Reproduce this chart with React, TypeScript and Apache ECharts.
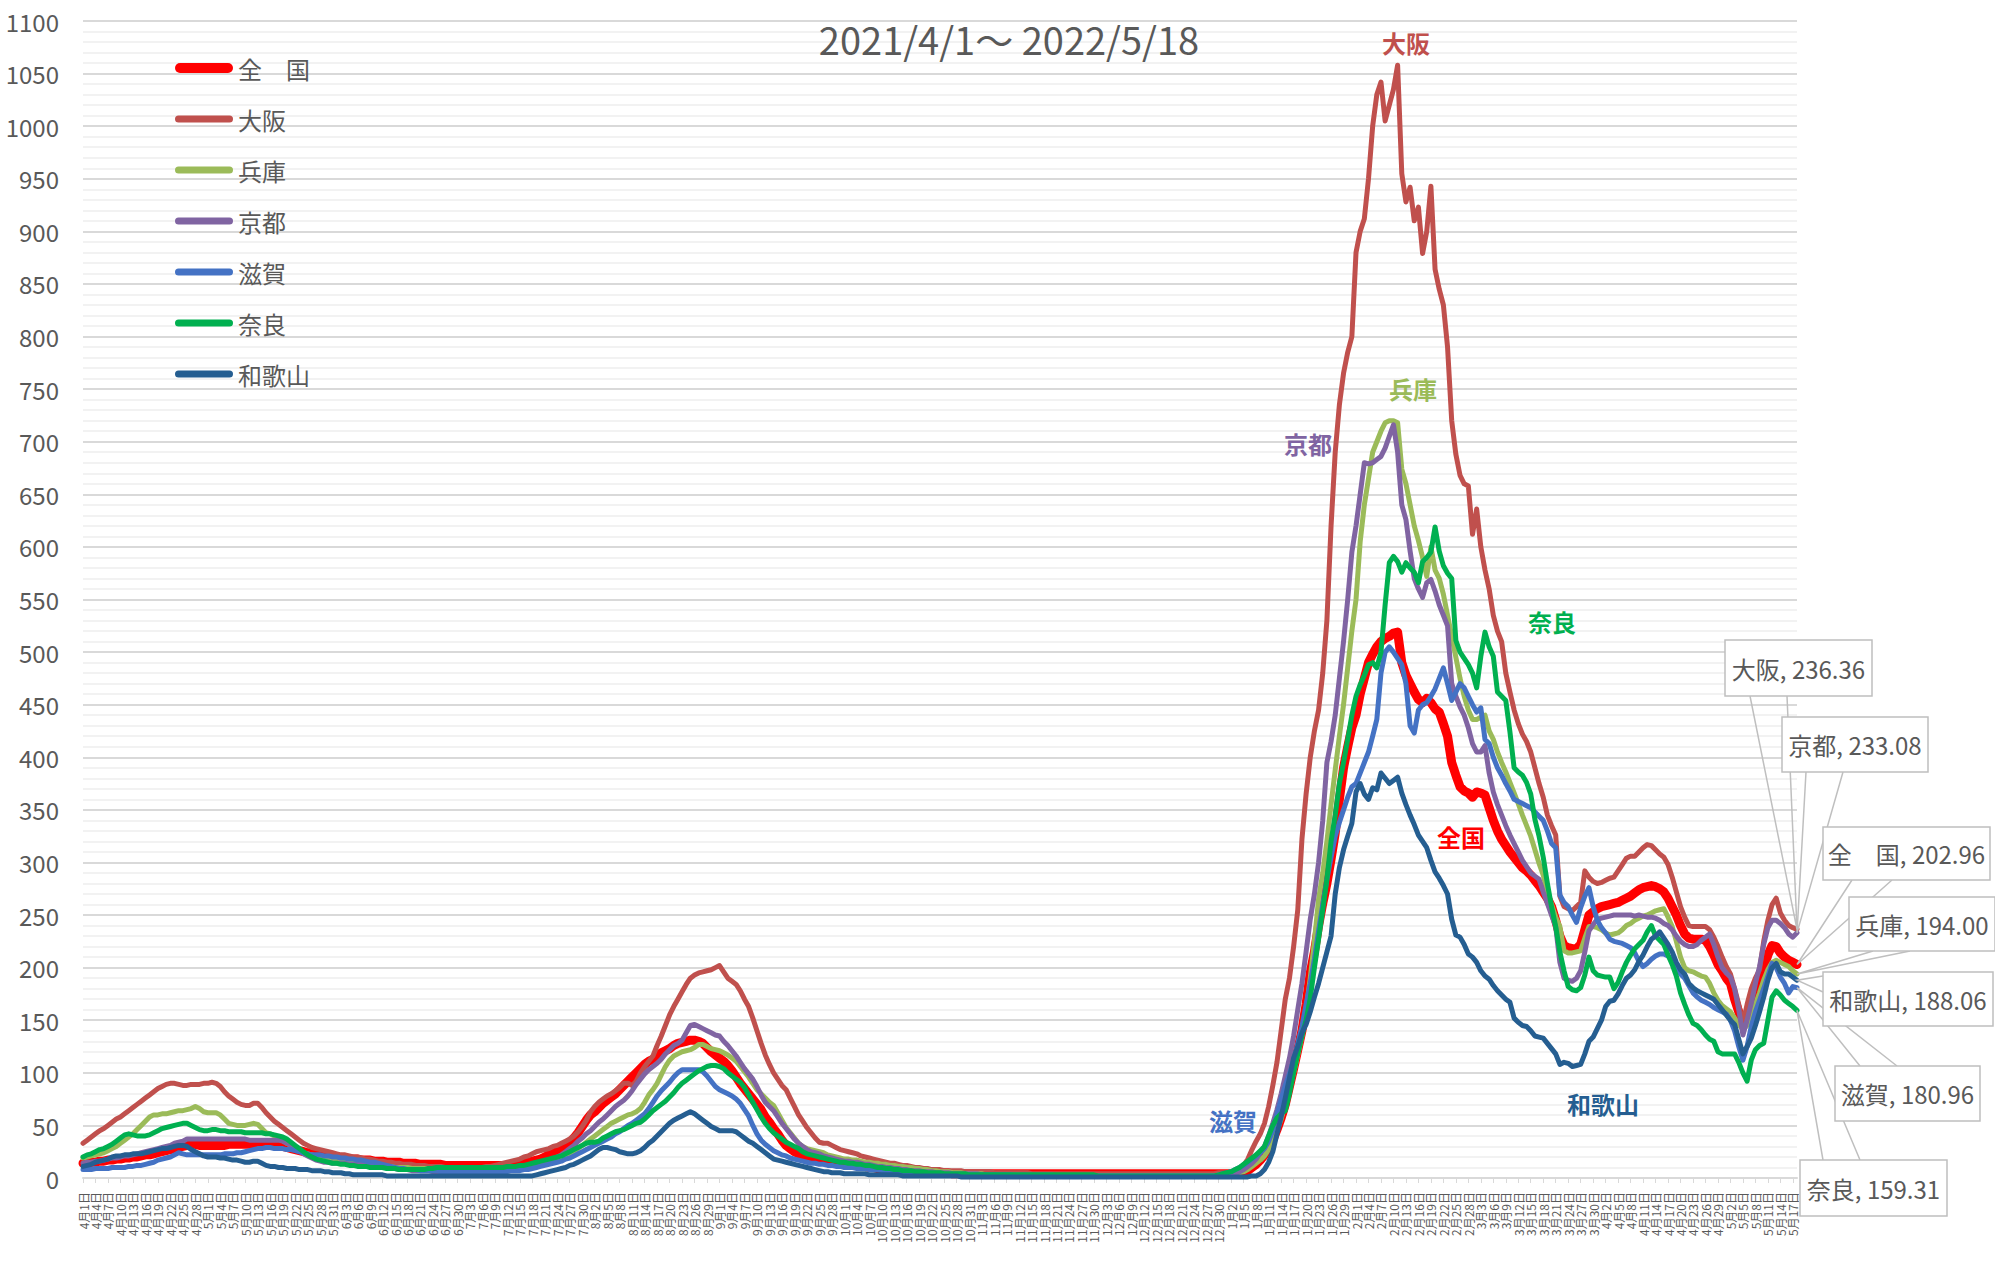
import React, { useEffect, useRef } from 'react';
import * as echarts from 'echarts';

// ---- categories: 2021/4/1 .. 2022/5/18 (daily) ----
const MONTHS: number[][] = [
  [4, 30], [5, 31], [6, 30], [7, 31], [8, 31], [9, 30], [10, 31], [11, 30], [12, 31],
  [1, 31], [2, 28], [3, 31], [4, 30], [5, 18],
];
const categories: string[] = [];
MONTHS.forEach(([m, n]) => { for (let d = 1; d <= n; d++) categories.push(`${m}月${d}日`); });

const Y_TICKS = { min: 0, max: 1100, interval: 50 };
const TITLE = '2021/4/1～ 2022/5/18';

// ---- series values, one sub-array per month ----
const zenkoku: number[][] = [
  [14,14,15,15,16,16,17,17,18,18, 19,19,20,20,21,22,22,23,24,25, 26,27,28,29,30,31,32,32,31,31],
  [31,31,31,31,31,32,32,32,32,32, 32,32,32,32,32,32,31,31,30,29, 28,27,26,25,24,24,23,22,22,21, 20],
  [20,19,19,18,18,18,17,17,17,16, 16,16,15,15,15,15,14,14,14,14, 13,13,13,13,13,13,12,12,12,12],
  [12,12,12,12,12,12,12,12,12,12, 12,12,13,13,14,14,15,16,17,18, 20,22,24,26,28,31,34,38,43,49, 55],
  [60,63,67,71,74,77,80,84,88,92, 96,100,104,108,111,113,116,119,121,123, 126,128,129,130,131,131,130,128,124,120, 117],
  [114,111,107,102,96,90,85,80,75,70, 65,58,53,47,42,36,31,28,25,23, 21,20,19,18,17,16,15,14,14,13],
  [13,13,12,12,11,11,10,10,9,9, 9,8,8,7,7,7,6,6,6,6, 5,5,5,5,5,5,4,4,4,4, 4],
  [4,4,4,4,4,4,4,4,4,4, 4,4,4,4,4,4,4,4,4,4, 4,4,4,4,4,4,4,4,4,4],
  [4,4,4,4,4,4,4,4,4,4, 4,4,4,4,4,4,4,4,4,4, 4,4,4,4,4,4,4,4,4,4, 4],
  [4,4,4,4,5,7,10,13,17,22, 28,36,46,57,70,87,104,122,140,165, 195,215,240,261,280,303,328,360,390,410, 428],
  [440,460,475,490,498,505,510,513,515,518, 519,490,478,470,462,455,452,456,452,446, 443,432,420,395,383,372,368,366],
  [362,367,366,364,352,340,330,322,316,310, 305,300,295,292,288,283,278,272,266,258, 245,230,221,219,218,218,222,236,250,253, 256],
  [258,259,260,261,262,264,266,268,271,274, 276,277,278,277,275,272,266,258,250,240, 232,228,227,227,227,226,220,212,203,197],
  [190,185,170,158,148,155,166,180,192,200, 212,221,220,214,210,207,205,202.96],
];
const osaka: number[][] = [
  [33,36,39,42,45,47,50,53,56,58, 61,64,67,70,73,76,79,82,85,87, 89,90,90,89,88,88,89,89,89,90],
  [90,91,90,87,82,78,75,72,70,69, 69,71,71,67,62,58,54,51,48,45, 42,39,36,33,31,29,28,27,26,25, 24],
  [23,22,22,21,20,20,19,18,18,17, 16,16,15,15,14,14,13,13,13,12, 12,12,11,11,11,11,10,10,10,10],
  [10,10,10,10,10,10,11,11,12,13, 14,15,16,17,18,20,21,23,25,26, 27,28,30,31,33,35,37,40,44,49, 55],
  [63,68,72,75,78,80,83,86,90,90, 88,92,100,106,111,116,126,135,145,155, 163,170,177,184,190,193,195,196,197,198, 200],
  [202,196,190,187,184,178,170,163,152,140, 128,117,108,100,94,88,84,76,68,60, 54,48,43,38,34,33,33,31,29,27],
  [26,25,24,23,21,20,19,18,17,16, 15,14,14,13,12,12,11,10,10,9, 9,8,8,8,7,7,7,7,7,6, 6],
  [6,6,6,6,6,5,5,5,5,5, 5,5,5,5,4,4,4,4,4,4, 4,4,4,4,4,4,4,4,4,4],
  [4,4,4,4,4,4,4,4,4,4, 4,4,4,4,4,4,4,4,4,4, 4,4,4,4,4,4,4,4,4,5, 5],
  [4,5,7,9,12,18,27,35,42,52, 68,88,110,140,170,190,220,255,322,365, 400,425,445,480,530,620,690,735,765,785, 800],
  [880,900,912,950,1000,1030,1042,1005,1020,1035, 1058,955,928,942,910,923,879,900,943,864, 845,830,790,720,688,668,660,658],
  [612,636,600,578,560,535,520,510,480,462, 445,432,422,415,405,390,375,362,345,335, 326,268,258,256,254,258,262,292,286,282, 280],
  [281,283,285,286,292,298,304,306,306,310, 314,317,316,312,308,305,298,286,272,258, 248,240,239,239,239,239,236,229,220,210],
  [201,194,180,165,147,165,180,190,198,225, 245,260,266,252,245,240,238,236.36],
];
const hyogo: number[][] = [
  [19,20,21,22,23,24,26,28,30,33, 36,39,42,46,50,54,58,60,60,61, 61,62,63,64,64,65,66,68,66,63],
  [62,62,62,60,56,52,51,50,50,50, 51,52,51,47,43,42,40,38,36,33, 31,28,26,24,23,22,21,20,19,18, 17],
  [17,16,15,15,14,14,13,13,12,12, 12,11,11,11,10,10,10,10,9,9, 9,9,9,8,8,8,8,8,8,8],
  [8,8,8,8,8,8,8,8,8,8, 8,9,9,9,10,10,11,11,12,13, 14,15,16,17,19,21,23,25,28,31, 34],
  [37,40,43,46,49,52,54,56,58,60, 61,63,66,72,79,84,90,98,106,112, 116,118,120,121,122,124,127,127,125,123, 122],
  [121,119,117,114,111,106,101,96,90,84, 80,76,72,69,62,55,48,43,38,33, 30,28,27,26,25,24,22,21,20,19],
  [18,18,17,17,16,15,15,14,14,13, 13,12,12,11,11,10,10,9,9,8, 8,7,7,6,6,6,5,5,5,4, 4],
  [4,4,4,3,3,3,3,3,3,3, 3,3,2,2,2,2,2,2,2,2, 2,2,2,2,2,2,2,2,2,2],
  [2,2,2,2,2,2,2,2,2,2, 2,2,2,2,2,2,2,2,2,2, 2,2,2,2,2,2,2,2,2,3, 3],
  [3,3,4,5,6,8,11,14,17,21, 27,35,45,56,70,85,100,117,135,160, 190,225,265,290,320,355,388,420,450,485, 520],
  [550,605,640,665,690,700,710,718,720,720, 718,674,660,640,620,606,590,572,600,578, 570,555,535,515,495,475,458,445],
  [436,436,438,440,425,417,405,395,386,376, 366,356,345,335,325,312,299,288,272,260, 248,239,216,214,214,215,216,228,239,239, 238],
  [236,233,231,232,233,236,240,242,245,247, 249,250,252,254,255,256,248,239,225,210, 200,197,196,194,192,191,185,176,169,164],
  [161,158,152,146,141,145,150,165,176,188, 198,205,207,205,203,201,197,194.0],
];
const kyoto: number[][] = [
  [14,15,15,16,16,17,18,19,19,20, 21,21,22,23,24,25,26,27,28,29, 30,31,33,34,35,37,37,37,37,37],
  [37,37,37,37,37,37,37,37,37,37, 36,36,36,36,36,36,36,36,35,33, 31,29,26,23,21,19,17,16,15,15, 14],
  [14,14,14,13,13,13,13,13,13,12, 12,11,10,9,9,8,8,8,7,7, 7,7,7,6,6,6,6,6,6,6],
  [6,6,6,6,6,6,6,6,7,7, 7,8,8,9,9,10,11,12,13,14, 15,16,18,20,22,25,28,31,35,38, 42],
  [45,49,53,56,60,64,68,71,74,78, 83,89,94,99,103,106,109,113,118,122, 126,128,131,138,145,146,144,142,140,138, 136],
  [135,130,126,121,116,110,104,99,94,87, 79,72,68,64,58,52,47,42,37,33, 30,27,25,24,23,21,20,19,18,17],
  [16,16,15,15,14,13,13,12,11,11, 10,10,9,9,8,8,7,7,7,6, 6,6,5,5,5,5,4,4,4,4, 4],
  [4,4,3,3,3,3,3,3,3,3, 3,3,3,3,3,3,3,3,3,3, 2,2,2,2,2,2,2,2,2,2],
  [2,2,2,2,2,2,2,2,2,2, 2,2,2,2,2,2,2,2,2,2, 2,2,2,2,2,2,2,2,2,3, 3],
  [3,3,4,6,8,11,14,18,24,30, 40,52,65,80,97,114,135,160,185,215, 246,270,300,340,395,415,440,475,510,550, 595],
  [620,650,680,679,680,683,686,694,705,716, 690,640,626,596,570,560,552,566,569,558, 545,535,525,470,458,448,440,428],
  [413,405,405,411,385,367,355,345,335,326, 318,310,302,296,290,287,284,272,261,250, 239,205,190,188,187,190,197,215,235,241, 246],
  [247,248,249,250,250,250,250,250,249,250, 249,248,248,247,245,242,240,236,230,225, 222,220,220,222,226,229,232,222,210,200],
  [195,191,180,160,136,150,166,185,201,222, 238,245,245,242,238,232,229,233.08],
];
const shiga: number[][] = [
  [8,8,8,9,9,9,9,10,10,10, 10,11,11,12,12,13,14,15,17,18, 19,20,22,24,23,22,22,22,22,22],
  [22,22,22,22,23,23,23,24,24,25, 26,27,28,28,29,29,28,28,28,27, 27,26,25,24,23,22,22,22,21,21, 20],
  [20,19,19,18,18,17,17,16,15,15, 14,13,12,11,10,9,9,8,8,8, 7,7,7,7,7,6,6,6,6,6],
  [6,6,6,6,6,6,6,6,6,6, 6,6,7,7,7,8,8,9,10,11, 12,13,14,15,16,18,19,21,23,25, 27],
  [29,31,33,35,37,39,42,44,47,50, 52,55,58,61,66,72,78,83,87,91, 96,100,103,103,103,103,103,101,97,92, 87],
  [84,82,80,78,75,71,65,59,50,42, 36,32,29,26,24,22,21,19,18,17, 16,15,14,14,13,13,12,12,11,11],
  [10,10,10,9,9,9,8,8,8,7, 7,7,7,6,6,6,5,5,5,5, 4,4,4,4,3,3,3,3,3,3, 3],
  [3,3,3,3,3,3,3,3,3,3, 2,2,2,2,2,2,2,2,2,2, 2,2,2,2,2,2,2,2,2,2],
  [2,2,2,2,2,2,2,2,2,2, 2,2,2,2,2,2,2,2,2,2, 2,2,2,2,2,2,2,2,2,3, 4],
  [5,6,8,10,12,15,18,21,24,28, 35,45,61,75,88,99,112,128,144,165, 185,208,235,260,284,305,325,338,350,362, 372],
  [375,385,395,405,420,436,480,500,505,500, 494,488,470,430,423,445,450,452,458,465, 475,485,470,454,462,470,466,458],
  [450,443,447,417,413,400,390,383,375,368, 360,358,356,354,352,348,344,340,330,318, 314,269,262,258,250,243,257,268,276,258, 245],
  [238,233,227,225,224,223,221,219,214,206, 201,204,208,211,213,213,211,207,200,194, 190,183,176,172,169,167,165,162,160,158],
  [156,150,140,125,112,125,144,158,169,180, 192,204,200,191,185,176,182,180.96],
];
const nara: number[][] = [
  [20,22,23,25,27,28,30,32,35,38, 41,42,41,40,40,40,41,43,45,47, 48,49,50,51,52,52,50,48,46,45],
  [45,46,46,45,45,44,44,44,44,43, 43,43,43,43,42,42,41,40,39,37, 34,31,28,25,22,20,18,17,16,15, 14],
  [14,13,13,12,12,11,11,11,10,10, 10,10,9,9,9,8,8,8,8,8, 8,8,9,9,10,10,10,10,10,10],
  [10,10,10,10,10,10,10,10,10,10, 10,11,11,11,12,12,13,14,15,16, 17,18,19,20,21,23,25,27,29,31, 33],
  [34,34,35,38,40,42,44,45,46,48, 50,52,53,56,60,64,67,70,73,77, 81,86,90,93,96,99,102,104,106,107, 107],
  [106,104,100,97,94,91,86,79,72,65, 58,52,47,43,40,37,34,32,30,28, 25,23,22,21,20,19,18,17,16,15],
  [15,14,14,13,13,12,12,11,10,10, 9,9,8,8,7,7,7,6,6,6, 5,5,5,5,4,4,4,4,4,4, 3],
  [3,3,3,3,3,3,3,3,3,3, 3,3,3,3,3,3,3,3,3,3, 3,3,3,3,3,3,3,3,3,3],
  [2,2,2,2,2,2,2,2,2,2, 2,2,2,2,2,2,2,2,2,2, 2,2,2,2,2,2,2,2,2,3, 4],
  [5,6,8,10,13,16,19,22,26,30, 40,50,57,61,64,80,100,118,135,150, 171,200,227,255,284,320,345,375,395,417, 440],
  [458,469,478,488,490,485,500,545,585,591, 586,576,585,580,576,566,586,590,595,619, 596,582,575,570,511,500,494,488],
  [480,466,496,519,505,496,462,458,454,424, 390,386,383,376,365,341,325,305,280,258, 239,215,197,182,179,178,181,193,210,197, 193],
  [192,191,191,180,186,196,205,212,218,222, 226,234,240,230,226,222,212,203,192,176, 165,155,147,145,141,136,132,130,120,118],
  [118,118,118,110,100,92,112,122,126,128, 150,172,178,174,169,166,163,159.31],
];
const wakayama: number[][] = [
  [11,12,13,15,16,17,18,20,21,21, 22,22,23,23,23,24,25,26,27,28, 28,29,30,31,31,30,27,25,23,21],
  [20,20,20,19,19,18,17,17,16,15, 15,16,16,14,12,11,11,10,10,9, 9,9,8,8,8,7,7,7,6,6, 5],
  [5,5,4,4,3,3,3,3,3,3, 3,3,2,2,2,2,2,2,2,2, 2,2,2,2,2,2,2,2,2,2],
  [2,2,2,2,2,2,2,2,2,2, 2,2,2,2,2,2,2,2,3,4, 5,6,7,8,9,10,12,13,15,17, 19],
  [21,24,27,29,29,28,27,25,24,23, 23,24,26,29,33,36,40,44,48,52, 55,57,59,61,63,61,58,55,52,49, 47],
  [45,45,45,45,44,41,38,35,33,30, 27,24,21,18,17,16,15,14,13,12, 11,10,9,8,7,6,6,5,5,5],
  [4,4,4,4,4,4,3,3,3,3, 3,3,3,3,2,2,2,2,2,2, 2,2,2,2,2,2,2,2,1,1, 1],
  [1,1,1,1,1,1,1,1,1,1, 1,1,1,1,1,1,1,1,1,1, 1,1,1,1,1,1,1,1,1,1],
  [1,1,1,1,1,1,1,1,1,1, 1,1,1,1,1,1,1,1,1,1, 1,1,1,1,1,1,1,1,1,1, 1],
  [1,1,1,1,1,1,2,2,4,8, 15,25,42,58,76,95,114,125,138,146, 158,172,185,200,215,230,270,295,312,325, 337],
  [367,375,365,360,371,369,385,380,375,378, 381,366,355,345,336,326,320,314,302,291, 285,278,270,246,231,229,222,213],
  [210,205,197,192,189,183,178,174,170,167, 152,148,145,144,140,135,134,133,128,123, 118,108,110,109,106,107,108,118,130,134, 142],
  [150,163,168,169,175,183,190,193,198,206, 212,220,227,230,234,228,222,215,205,198, 194,185,181,178,176,174,172,170,165,160],
  [155,150,146,132,118,125,133,145,158,172, 188,200,204,196,194,194,191,188.06],
];

const NAMES = ['全　国', '大阪', '兵庫', '京都', '滋賀', '奈良', '和歌山'];
const COLORS = ['#FF0000', '#C0504D', '#9BBB59', '#8064A2', '#4472C4', '#00B050', '#255E91'];
const WIDTHS = [9, 5, 5, 5, 5, 5, 5];
const RAW = [zenkoku, osaka, hyogo, kyoto, shiga, nara, wakayama];

// legend icons: round-capped bars (thick for 全国)
const ICON_THICK = 'path://M5,0H53A5,5,0,0,1,53,10H5A5,5,0,0,1,5,0Z';
const ICON_THIN = 'path://M3.5,0H54.5A3.5,3.5,0,0,1,54.5,7H3.5A3.5,3.5,0,0,1,3.5,0Z';

// on-chart name labels
const TAGS = [
  { text: '大阪', color: '#C0504D', x: 1406, y: 42 },
  { text: '兵庫', color: '#9BBB59', x: 1413, y: 388 },
  { text: '京都', color: '#8064A2', x: 1308, y: 443 },
  { text: '奈良', color: '#00B050', x: 1552, y: 621 },
  { text: '全国', color: '#FF0000', x: 1461, y: 836 },
  { text: '滋賀', color: '#4472C4', x: 1233, y: 1120 },
  { text: '和歌山', color: '#255E91', x: 1603, y: 1103 },
];

// callout boxes (series index, box rect, wedge base points)
const CALLOUTS = [
  { s: 1, x: 1725, y: 640, w: 147, h: 56, b: [[1750, 696], [1787, 696]] },
  { s: 3, x: 1782, y: 717, w: 146, h: 55, b: [[1806, 772], [1843, 772]] },
  { s: 0, x: 1823, y: 827, w: 167, h: 53, b: [[1852, 880], [1892, 880]] },
  { s: 2, x: 1849, y: 897, w: 146, h: 54, b: [[1873, 951], [1910, 951]] },
  { s: 6, x: 1823, y: 972, w: 170, h: 54, b: [[1823, 976], [1823, 992]] },
  { s: 4, x: 1835, y: 1066, w: 145, h: 55, b: [[1860, 1066], [1897, 1066]] },
  { s: 5, x: 1800, y: 1160, w: 147, h: 56, b: [[1823, 1160], [1860, 1160]] },
];

const FONT = "'Noto Sans CJK JP', 'Noto Sans', sans-serif";

export default function App() {
  const ref = useRef<HTMLDivElement>(null);
  useEffect(() => {
    const chart = echarts.init(ref.current!, null, { renderer: 'svg' });
    const warnings: string[] = [];
    const data = RAW.map((months, k) => {
      months.forEach((arr, mi) => {
        if (arr.length !== MONTHS[mi][1]) warnings.push(`${NAMES[k]} m${mi}: ${arr.length}/${MONTHS[mi][1]}`);
      });
      return ([] as number[]).concat(...months);
    });
    const last = categories.length - 1;

    const series = NAMES.map((name, k) => ({
      name,
      type: 'line',
      data: data[k],
      symbol: 'none',
      showSymbol: false,
      smooth: false,
      color: COLORS[k],
      itemStyle: { color: COLORS[k] },
      lineStyle: { color: COLORS[k], width: WIDTHS[k], cap: 'round', join: 'round' },
      z: 2 + k,
    }));

    chart.setOption({
      animation: false,
      backgroundColor: '#ffffff',
      textStyle: { fontFamily: FONT },
      grid: { left: 83, right: 198, top: 21, bottom: 84, containLabel: false },
      legend: {
        orient: 'vertical',
        left: 175,
        top: 56,
        padding: 0,
        itemWidth: 58,
        itemHeight: 14,
        itemGap: 27,
        data: NAMES.map((n, k) => ({ name: n, icon: k === 0 ? ICON_THICK : ICON_THIN })),
        textStyle: { fontSize: 24, color: '#595959', fontFamily: FONT, lineHeight: 24 },
      },
      xAxis: {
        type: 'category',
        data: categories,
        boundaryGap: false,
        axisLine: { show: true, lineStyle: { color: '#D9D9D9', width: 2 } },
        axisTick: { show: true, interval: 2, length: 5, lineStyle: { color: '#D9D9D9', width: 1 } },
        axisLabel: { interval: 2, rotate: 90, fontSize: 12, color: '#595959', margin: 14, fontFamily: FONT },
        splitLine: { show: false },
      },
      yAxis: {
        type: 'value',
        min: Y_TICKS.min,
        max: Y_TICKS.max,
        interval: Y_TICKS.interval,
        axisLine: { show: false },
        axisTick: { show: false },
        axisLabel: { fontSize: 24, color: '#595959', margin: 24, fontFamily: FONT, formatter: (v: number) => String(v) },
        splitLine: { show: true, lineStyle: { color: '#D9D9D9', width: 2 } },
        minorTick: { show: false, splitNumber: 5 },
        minorSplitLine: { show: true, lineStyle: { color: '#F2F2F2', width: 2 } },
      },
      series,
    });

    const g: any[] = [];
    g.push({
      type: 'text', x: 1009, y: 38, z: 50,
      style: { text: TITLE, fontSize: 38, fontFamily: FONT, fill: '#595959', align: 'center', verticalAlign: 'middle', textAlign: 'center', textVerticalAlign: 'middle' },
    });
    TAGS.forEach(t => g.push({
      type: 'text', x: t.x, y: t.y, z: 50,
      style: { text: t.text, fontSize: 24, fontWeight: 'bold', fontFamily: FONT, fill: t.color, align: 'center', verticalAlign: 'middle', textAlign: 'center', textVerticalAlign: 'middle' },
    }));
    CALLOUTS.forEach(c => {
      const v = data[c.s][last];
      const p = chart.convertToPixel({ gridIndex: 0 }, [last, v]) as number[];
      g.push({
        type: 'polyline', z: 60,
        shape: { points: [c.b[0], [p[0], p[1]], c.b[1]] },
        style: { stroke: '#BFBFBF', lineWidth: 1.5, fill: null },
      });
    });
    CALLOUTS.forEach(c => {
      const v = data[c.s][last];
      g.push({
        type: 'rect', z: 61,
        shape: { x: c.x, y: c.y, width: c.w, height: c.h },
        style: { fill: '#ffffff', stroke: '#BFBFBF', lineWidth: 1.5 },
      });
      g.push({
        type: 'text', x: c.x + c.w / 2, y: c.y + c.h / 2, z: 62,
        style: { text: `${NAMES[c.s]}, ${v.toFixed(2)}`, fontSize: 24, fontFamily: FONT, fill: '#595959', align: 'center', verticalAlign: 'middle', textAlign: 'center', textVerticalAlign: 'middle' },
      });
    });
    if (warnings.length) {
      g.push({ type: 'text', x: 300, y: 500, z: 100, style: { text: warnings.join('\n'), fontSize: 20, fill: '#000' } });
    }
    chart.setOption({ graphic: g });
    return () => chart.dispose();
  }, []);
  return <div ref={ref} style={{ position: 'fixed', left: 0, top: 0, width: 1995, height: 1262 }} />;
}
